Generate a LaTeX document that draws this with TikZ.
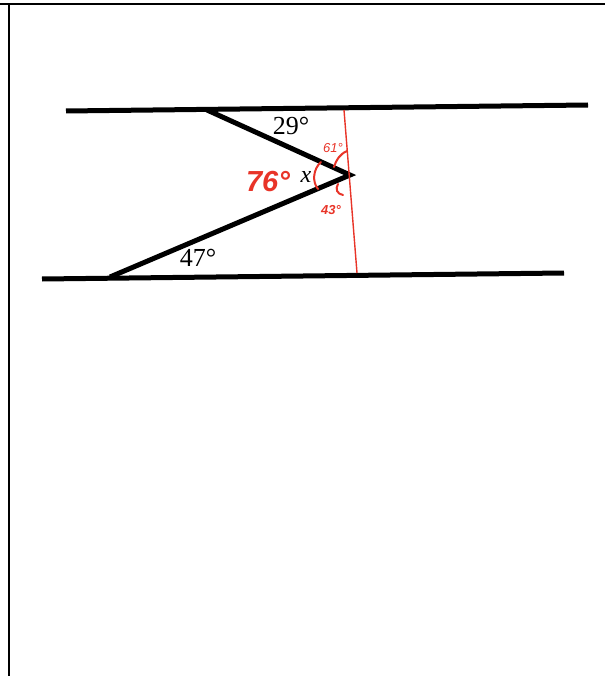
\documentclass[tikz,border=0pt]{standalone}
\usepackage{fontspec}
\setmainfont{Liberation Serif}
\newfontfamily\handfont{Liberation Sans}
\definecolor{penred}{RGB}{232,52,40}
\begin{document}
\begin{tikzpicture}[x=1pt,y=-1pt,
  thick line/.style={line width=5pt, black},
  frame line/.style={line width=2.2pt, black},
  red line/.style={line width=1.4pt, penred},
  red arc/.style={line width=2pt, penred, line cap=round},
  deg label/.style={font=\fontsize{26}{28}\selectfont, inner sep=0pt},
  hand label/.style={text=penred, inner sep=0pt}]
\useasboundingbox (0,0) rectangle (605,676);
% frame
\coordinate (fl) at (0,4);
\coordinate (fr) at (605,4);
\coordinate (vt) at (9,4);
\coordinate (vb) at (9,676);
\draw[frame line] (fl) -- (fr);
\draw[frame line] (vt) -- (vb);
% parallel lines
\coordinate (t1) at (66,111);
\coordinate (t2) at (588,105);
\coordinate (b1) at (42,279);
\coordinate (b2) at (564,273);
\draw[thick line] (t1) -- (t2);
\draw[thick line] (b1) -- (b2);
% zigzag
\coordinate (za) at (207,110);
\coordinate (zv) at (350,175);
\coordinate (zb) at (110,277);
\draw[thick line, line join=miter] (za) -- (zv) -- (zb);
% red transversal
\coordinate (rt) at (344,110);
\coordinate (rb) at (357,273);
\draw[red line] (rt) -- (rb);
% red arcs
\draw[red arc] (321,162) .. controls (313,169) and (312,182) .. (318,189);
\draw[red arc] (334,167) .. controls (336,160) and (340,154) .. (347,151);
\draw[red arc] (338,184) .. controls (335,189) and (337,194) .. (343,195);
% labels
\node[deg label] (l29) at (291,126) {29°};
\node[deg label] (l47) at (198,258) {47°};
\node[deg label, font=\fontsize{24}{26}\selectfont\itshape] (lx) at (306,177) {x};
\node[hand label, font=\handfont\bfseries\itshape\fontsize{29}{32}\selectfont] (l76) at (268,182) {76°};
\node[hand label, font=\handfont\itshape\fontsize{13}{14}\selectfont] (l61) at (333,148) {61°};
\node[hand label, font=\handfont\bfseries\itshape\fontsize{13}{14}\selectfont] (l43) at (331,210) {43°};
\end{tikzpicture}
\end{document}
